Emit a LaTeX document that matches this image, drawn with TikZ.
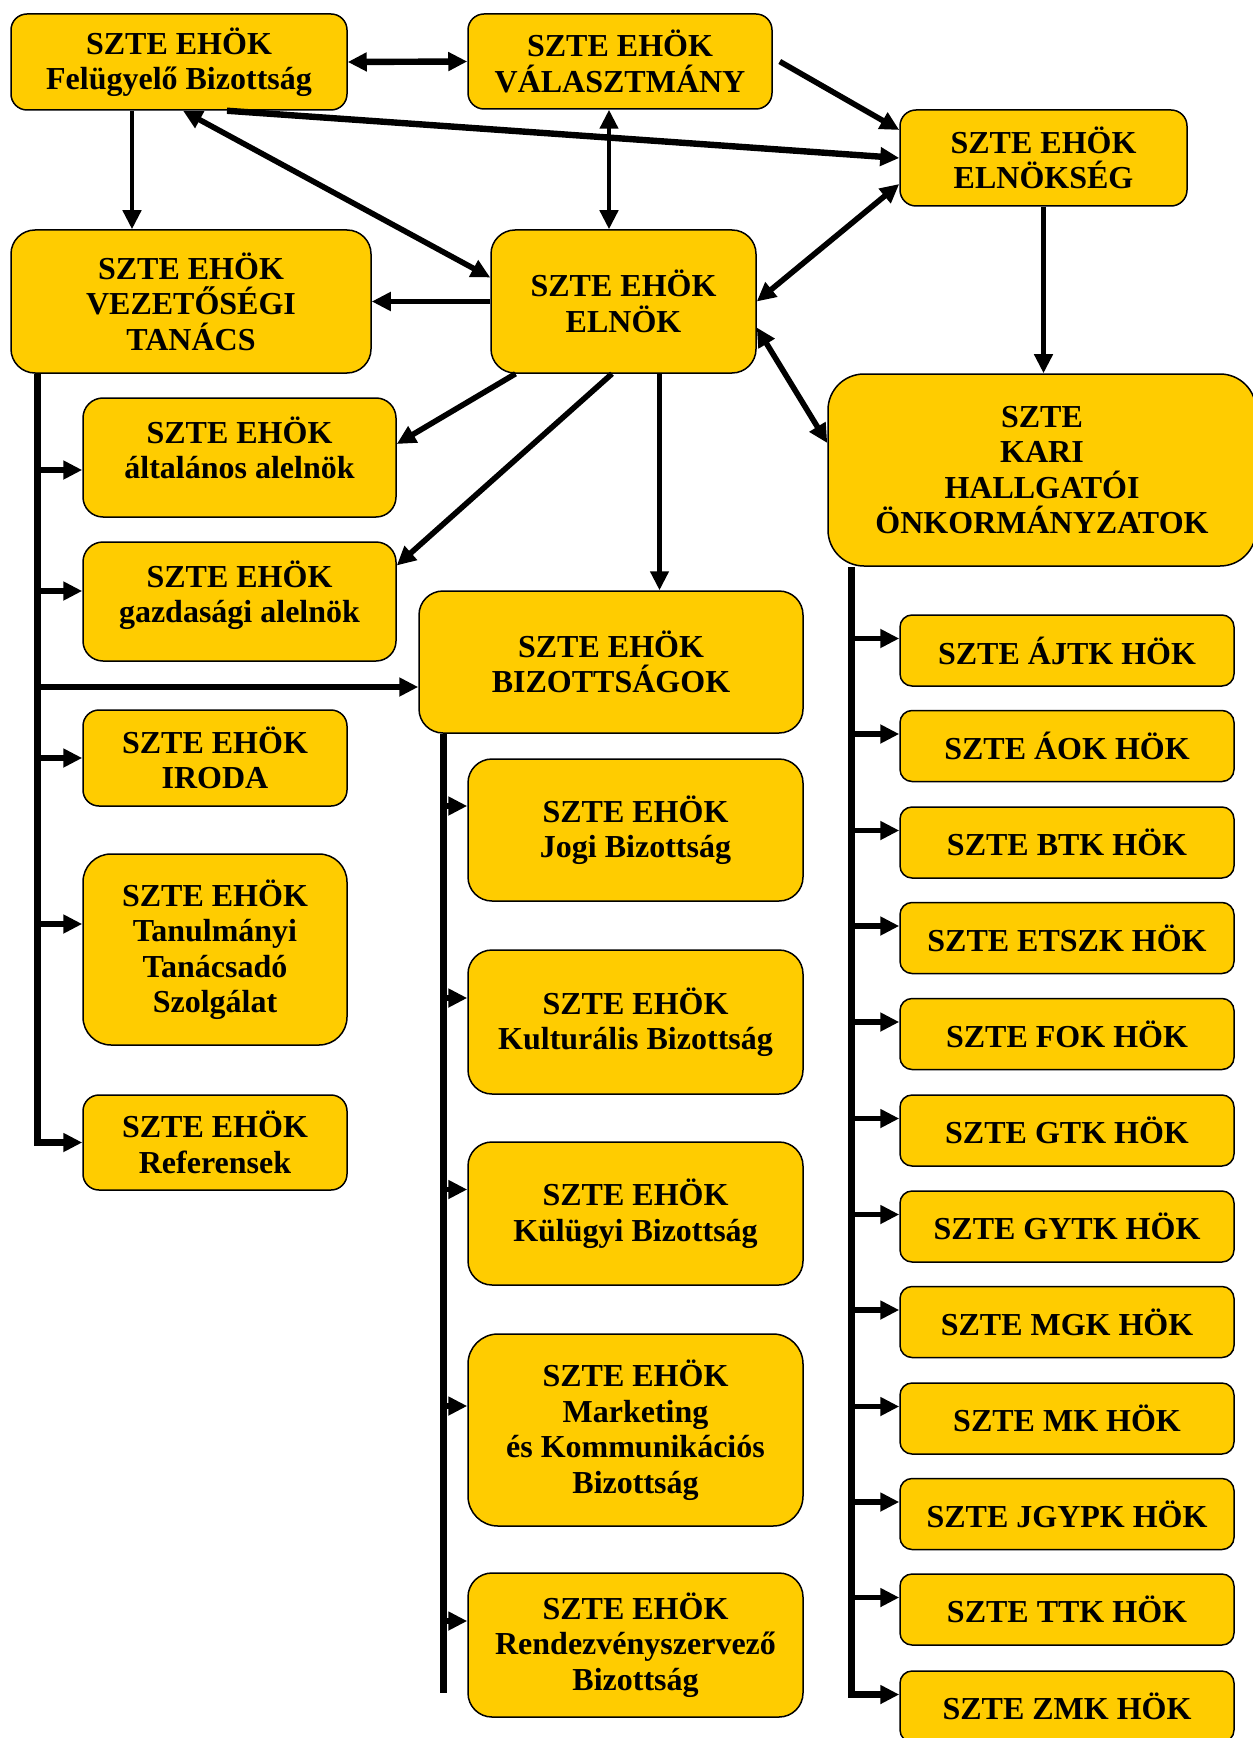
\documentclass[tikz,border=0pt]{standalone}
\usepackage{fontspec}
\setmainfont{Liberation Serif}
\usetikzlibrary{arrows.meta,positioning,calc}
\definecolor{hokgold}{RGB}{255,204,0}
\tikzstyle{box}=[draw=black,line width=0.75pt,fill=hokgold,align=center,inner sep=2pt,font=\bfseries\fontsize{16}{17.75}\selectfont]
\tikzstyle{arr}=[line width=2.8pt,-{Triangle[length=9.5pt,width=9pt]}]
\tikzstyle{darr}=[line width=2.8pt,{Triangle[length=9.5pt,width=9pt]}-{Triangle[length=9.5pt,width=9pt]}]
\tikzstyle{bus}=[line width=3.5pt]

\begin{document}
\begin{tikzpicture}[x=0.5pt,y=-0.5pt,
  small/.style={box,rounded corners=6pt,minimum width=167pt,minimum height=35.5pt},
  mid/.style={box,rounded corners=8pt,minimum height=48pt},
  big/.style={box,rounded corners=12pt,minimum height=71.5pt}]
\useasboundingbox (0,0) rectangle (1252,1738);

% top row
\node [mid,minimum width=168pt] (fb) at (179,62) {SZTE EHÖK\\Felügyelő Bizottság};
\node [mid,minimum width=152pt,minimum height=47.5pt] (val) at (620,61.5) {SZTE EHÖK\\VÁLASZTMÁNY};
\node [mid,minimum width=143.5pt] (els) at (1043.5,158) {SZTE EHÖK\\ELNÖKSÉG};

% leadership
\node [big,minimum width=180pt] (vt) at (191,301.5) {SZTE EHÖK\\VEZETŐSÉGI\\TANÁCS};
\node [big,minimum width=132.5pt] (el) at (623.5,301.5) {SZTE EHÖK\\ELNÖK};
\node [box,rounded corners=18pt,minimum width=214pt,minimum height=96pt] (kari) at (1042,470) {SZTE\\KARI\\HALLGATÓI\\ÖNKORMÁNYZATOK};

% left column
\node [box,rounded corners=10pt,minimum width=156.5pt,minimum height=59.5pt] (alt) at (239.5,457.5) {SZTE EHÖK\\általános alelnök\\[-8pt]\mbox{}};
\node [box,rounded corners=10pt,minimum width=156.5pt,minimum height=59.5pt] (gaz) at (239.5,601.5) {SZTE EHÖK\\gazdasági alelnök\\[-8pt]\mbox{}};
\node [big,minimum width=192pt,minimum height=71pt] (biz) at (611,662) {SZTE EHÖK\\BIZOTTSÁGOK};
\node [mid,minimum width=132pt] (iroda) at (215,758) {SZTE EHÖK\\IRODA};
\node [box,rounded corners=14pt,minimum width=132pt,minimum height=95.5pt] (ttsz) at (215,949.5) {SZTE EHÖK\\Tanulmányi\\Tanácsadó\\Szolgálat};
\node [mid,minimum width=132pt,minimum height=47.5pt] (ref) at (215,1142.5) {SZTE EHÖK\\Referensek};

% committees
\node [big,minimum width=167.5pt,minimum height=71pt] (jogi) at (635.5,830) {SZTE EHÖK\\Jogi Bizottság};
\node [big,minimum width=167.5pt,minimum height=72pt] (kult) at (635.5,1022) {SZTE EHÖK\\Kulturális Bizottság};
\node [big,minimum width=167.5pt] (kulugy) at (635.5,1213.5) {SZTE EHÖK\\Külügyi Bizottság};
\node [box,rounded corners=15pt,minimum width=167.5pt,minimum height=96pt] (mark) at (635.5,1430) {SZTE EHÖK\\Marketing\\és Kommunikációs\\Bizottság};
\node [big,minimum width=167.5pt,minimum height=72pt] (rend) at (635.5,1645) {SZTE EHÖK\\Rendezvényszervező\\Bizottság};

% faculties
\node [small] (ajtk) at (1067,650.5) {SZTE ÁJTK HÖK};
\node [small] (aok) at (1067,746) {SZTE ÁOK HÖK};
\node [small] (btk) at (1067,842.5) {SZTE BTK HÖK};
\node [small] (etszk) at (1067,938) {SZTE ETSZK HÖK};
\node [small] (fok) at (1067,1034) {SZTE FOK HÖK};
\node [small] (gtk) at (1067,1130.5) {SZTE GTK HÖK};
\node [small] (gytk) at (1067,1226.5) {SZTE GYTK HÖK};
\node [small] (mgk) at (1067,1322) {SZTE MGK HÖK};
\node [small] (mk) at (1067,1418.5) {SZTE MK HÖK};
\node [small] (jgypk) at (1067,1514) {SZTE JGYPK HÖK};
\node [small] (ttk) at (1067,1609.5) {SZTE TTK HÖK};
\node [small] (zmk) at (1067,1706.5) {SZTE ZMK HÖK};

% connectors at the top
\draw [darr,line width=3.2pt] (fb.east) -- (val.west);
\draw [arr] ([xshift=3.5pt]val.east) -- ([yshift=14pt]els.west);
\draw [arr,line width=3.2pt] ([xshift=24pt]fb.south) -- (els.west);
\draw [arr,line width=2.2pt] ([xshift=-23.5pt]fb.south) -- ([xshift=-23.5pt]fb.south |- vt.north);
\draw [darr] ([xshift=2pt]fb.south) -- ([yshift=12pt]el.west);
\draw [darr,line width=2.2pt] ([xshift=-5.5pt]val.south) -- ([xshift=-5.5pt]val.south |- el.north);
\draw [darr] ([yshift=-13pt]els.west) -- (el.east);
\draw [arr,line width=2.2pt] (els.south) -- (els.south |- kari.north);
\draw [arr] (el.west) -- (vt.east);
\draw [arr] ([xshift=-54pt]el.south) -- ([yshift=6.75pt]alt.east);
\draw [arr] ([xshift=-5.75pt]el.south) -- ([yshift=18pt]gaz.east);
\draw [arr,line width=2.2pt] ([xshift=18pt]el.south) -- ([xshift=18pt]el.south |- biz.north);
\draw [darr] ([yshift=-13pt]el.east) -- ([yshift=13.5pt]kari.west);

% left bus
\coordinate (lbus) at (37,1142.5);
\draw [bus,-{Triangle[length=9.5pt,width=9pt]}] (vt.south -| lbus) |- (ref.west);
\draw [arr] ([yshift=-6.25pt]alt.west -| lbus) -- ([yshift=-6.25pt]alt.west);
\draw [arr] ([yshift=5.25pt]gaz.west -| lbus) -- ([yshift=5.25pt]gaz.west);
\draw [arr] ([yshift=-12.5pt]biz.west -| lbus) -- ([yshift=-12.5pt]biz.west);
\draw [arr] (iroda.west -| lbus) -- (iroda.west);
\draw [arr] ([yshift=12.75pt]ttsz.west -| lbus) -- ([yshift=12.75pt]ttsz.west);

% committee bus
\coordinate (mbus) at (443,1693);
\draw [bus] (biz.south -| mbus) -- (mbus);
\draw [arr] ([yshift=12pt]jogi.west -| mbus) -- ([yshift=12pt]jogi.west);
\draw [arr] ([yshift=12pt]kult.west -| mbus) -- ([yshift=12pt]kult.west);
\draw [arr] ([yshift=12pt]kulugy.west -| mbus) -- ([yshift=12pt]kulugy.west);
\draw [arr] ([yshift=12pt]mark.west -| mbus) -- ([yshift=12pt]mark.west);
\draw [arr] ([yshift=12pt]rend.west -| mbus) -- ([yshift=12pt]rend.west);

% faculty bus
\coordinate (rbus) at (851,1694);
\draw [bus,-{Triangle[length=9.5pt,width=9pt]}] (kari.south -| rbus) |- ([yshift=6pt]zmk.west);
\draw [arr] ([yshift=6pt]ajtk.west -| rbus) -- ([yshift=6pt]ajtk.west);
\draw [arr] ([yshift=6pt]aok.west -| rbus) -- ([yshift=6pt]aok.west);
\draw [arr] ([yshift=6pt]btk.west -| rbus) -- ([yshift=6pt]btk.west);
\draw [arr] ([yshift=6pt]etszk.west -| rbus) -- ([yshift=6pt]etszk.west);
\draw [arr] ([yshift=6pt]fok.west -| rbus) -- ([yshift=6pt]fok.west);
\draw [arr] ([yshift=6pt]gtk.west -| rbus) -- ([yshift=6pt]gtk.west);
\draw [arr] ([yshift=6pt]gytk.west -| rbus) -- ([yshift=6pt]gytk.west);
\draw [arr] ([yshift=6pt]mgk.west -| rbus) -- ([yshift=6pt]mgk.west);
\draw [arr] ([yshift=6pt]mk.west -| rbus) -- ([yshift=6pt]mk.west);
\draw [arr] ([yshift=6pt]jgypk.west -| rbus) -- ([yshift=6pt]jgypk.west);
\draw [arr] ([yshift=6pt]ttk.west -| rbus) -- ([yshift=6pt]ttk.west);
\end{tikzpicture}
\end{document}
